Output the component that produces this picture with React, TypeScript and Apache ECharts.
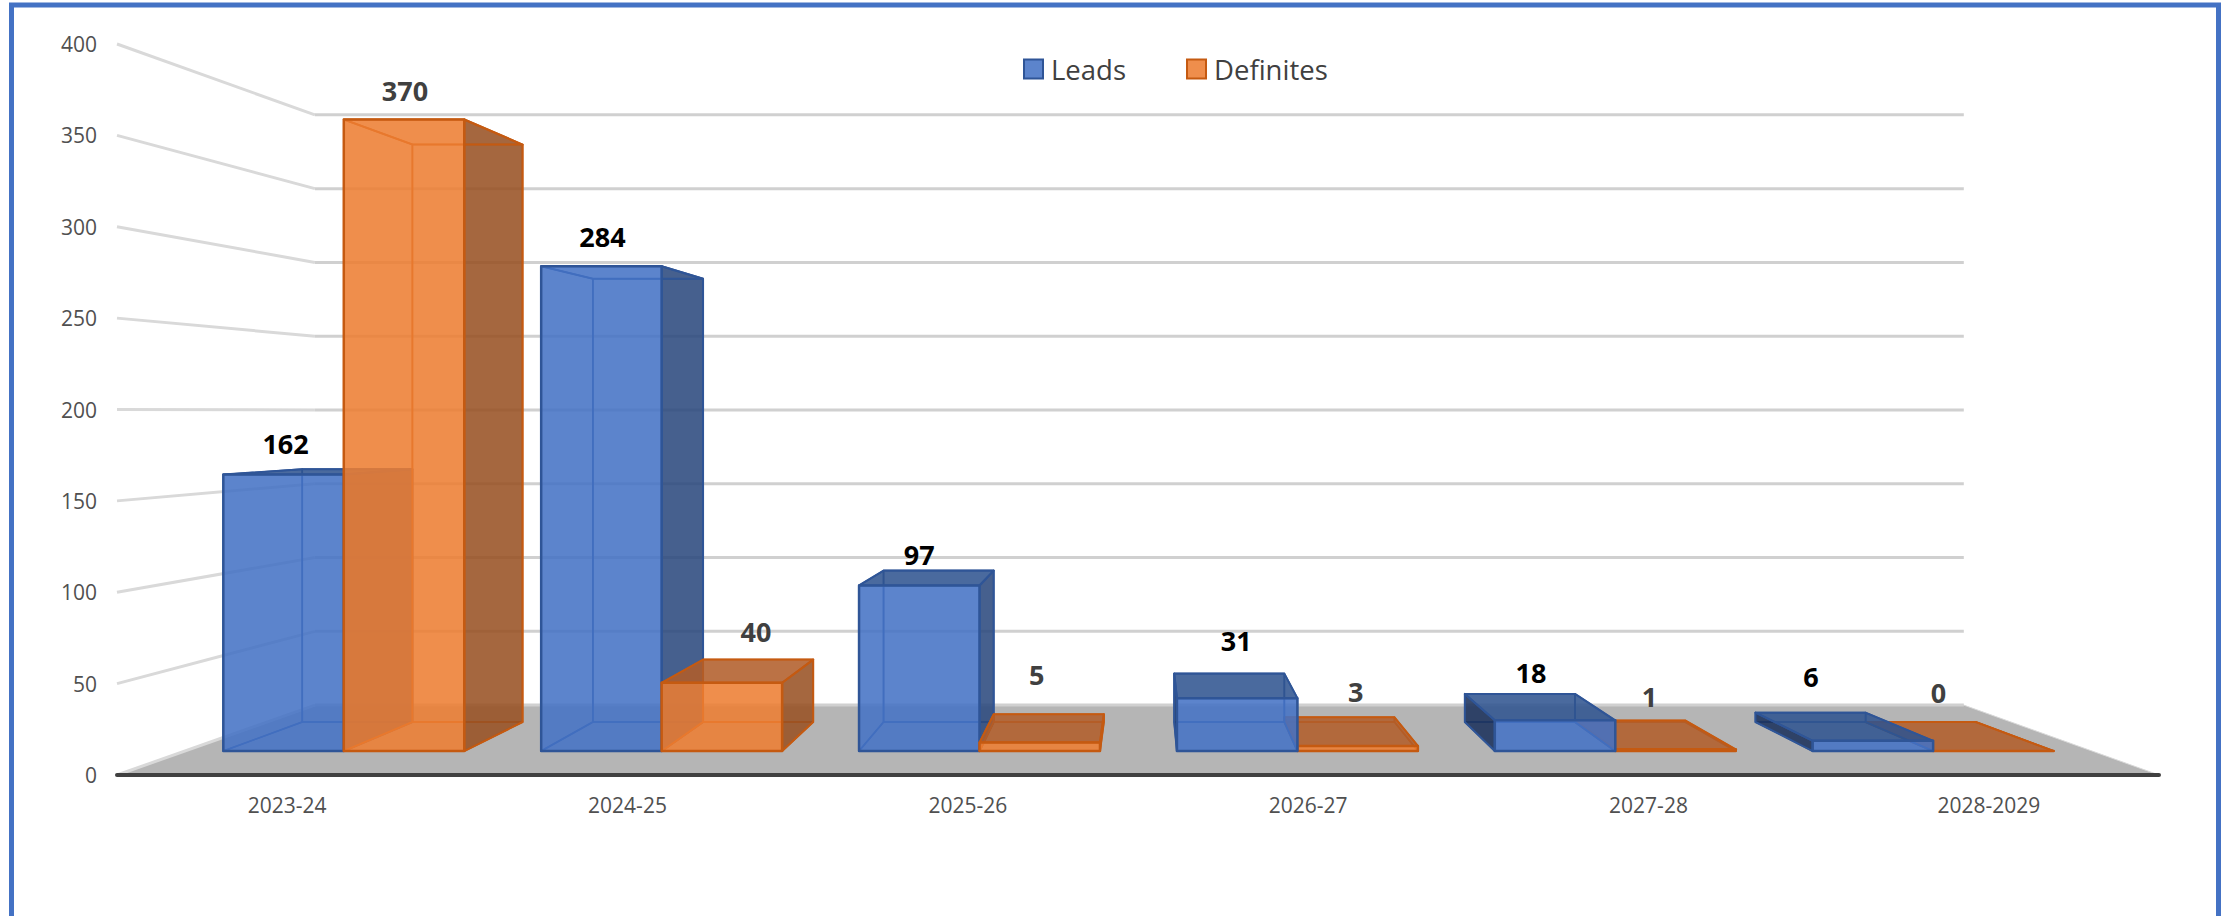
import React, { useEffect, useRef } from "react";
import * as echarts from "echarts";

const categories = ["2023-24", "2024-25", "2025-26", "2026-27", "2027-28", "2028-2029"];
const leads = [162, 284, 97, 31, 18, 6];
const definites = [370, 40, 5, 3, 1, 0];
const yTicks = [0, 50, 100, 150, 200, 250, 300, 350, 400];

// Layout of the data labels, relative to the top centre of each bar's front face
const leadsLabelDx = [2, 1, 0, -1, -24, -62];
const leadsLabelDy = [-31, -30, -31, -58, -48, -64];
const definitesLabelDx = [1, 34, -3, -2, -26, -55];
const definitesLabelDy = [-29, -51, -68, -54, -53, -59];

// Perspective: vanishing point and depth scales
const VP_X = 1145;
const VP_Y = 412;
const S_FRONT = 0.934;
const S_BACK = 0.854;
const S_WALL = 0.8075;
const BAR_RATIO = 0.379;
const FONT = '"Open Sans", "Noto Sans", sans-serif';

const project = (p: number[], s: number) => [VP_X + (p[0] - VP_X) * s, VP_Y + (p[1] - VP_Y) * s];

type Palette = { front: string; right: string; left: string; top: string; edge: string; label: string };
const blue: Palette = {
  front: "rgba(68,114,196,0.87)",
  right: "rgba(42,72,125,0.87)",
  left: "rgba(26,48,91,0.87)",
  top: "rgba(47,84,144,0.87)",
  edge: "#2F5597",
  label: "#000000",
};
const orange: Palette = {
  front: "rgba(237,125,49,0.87)",
  right: "rgba(152,80,34,0.87)",
  left: "rgba(122,63,24,0.87)",
  top: "rgba(177,93,41,0.87)",
  edge: "#C55A11",
  label: "#404040",
};

function barRenderer(side: number, pal: Palette, dxs: number[], dys: number[]) {
  return (_params: any, api: any) => {
    const cat = api.value(0);
    const val = api.value(1);
    const base = api.coord([cat, 0]);
    const top = api.coord([cat, val]);
    const barW = api.size([1, 0])[0] * BAR_RATIO;
    const x0 = side < 0 ? base[0] - barW : base[0];
    const x1 = x0 + barW;
    const yB = base[1];
    const yT = top[1];

    const fbl = project([x0, yB], S_FRONT);
    const fbr = project([x1, yB], S_FRONT);
    const ftl = project([x0, yT], S_FRONT);
    const ftr = project([x1, yT], S_FRONT);
    const bbl = project([x0, yB], S_BACK);
    const bbr = project([x1, yB], S_BACK);
    const btl = project([x0, yT], S_BACK);
    const btr = project([x1, yT], S_BACK);

    const center = (x0 + x1) / 2;
    const dist = Math.abs(center - VP_X);
    // bars further from the eye's axis are painted first
    const z = Math.round(3000 - dist) * 10 + 100;
    const isLeft = center < VP_X; // left of the eye: right side face is seen
    const topSeen = yT > VP_Y; // the top face is only seen from above, below the eye level

    const poly = (pts: number[][], fill: string, lw: number, zAdd: number) => ({
      type: "polygon",
      silent: true,
      z2: z + zAdd,
      shape: { points: pts },
      style: { fill, stroke: pal.edge, lineWidth: lw, lineJoin: "round" },
    });

    const leftFace = [bbl, fbl, ftl, btl];
    const rightFace = [fbr, bbr, btr, ftr];
    const children: any[] = [
      poly([bbl, bbr, btr, btl], "none", 1.6, 0),
      poly([bbl, bbr, fbr, fbl], "none", 1.6, 1),
      poly(isLeft ? leftFace : rightFace, "none", 1.6, 2),
      poly(isLeft ? rightFace : leftFace, isLeft ? pal.right : pal.left, 2, 3),
      poly([ftl, ftr, btr, btl], topSeen ? pal.top : "none", 2, 4),
      poly([fbl, fbr, ftr, ftl], pal.front, 2.5, 5),
      {
        type: "text",
        silent: true,
        z2: 100000,
        x: (ftl[0] + ftr[0]) / 2 + dxs[cat],
        y: ftl[1] + dys[cat],
        style: {
          text: String(val),
          fill: pal.label,
          font: `700 27px ${FONT}`,
          align: "center",
          verticalAlign: "middle",
          textAlign: "center",
          textVerticalAlign: "middle",
        },
      },
    ];
    return { type: "group", children };
  };
}

function wallRenderer(params: any, api: any) {
  const v = api.value(0);
  const cs = params.coordSys;
  const y = api.coord([0, v])[1];
  const leftX = cs.x;
  const rightX = cs.x + cs.width;
  const backL = project([leftX, y], S_WALL);
  const backR = project([rightX, y], S_WALL);
  const children: any[] = [];
  if (v === 0) {
    children.push({
      type: "polygon",
      silent: true,
      z2: 1,
      shape: { points: [[leftX, y], [rightX, y], backR, backL] },
      style: { fill: "#B5B5B5", stroke: "#D9D9D9", lineWidth: 1 },
    });
  }
  children.push({
    type: "polyline",
    silent: true,
    z2: 2,
    shape: { points: [[leftX, y], backL] },
    style: { fill: "none", stroke: "#D9D9D9", lineWidth: 3 },
  });
  children.push({
    type: "line",
    silent: true,
    z2: 2,
    shape: { x1: backL[0], y1: backL[1], x2: backR[0], y2: backR[1] },
    style: { stroke: "#D0D0D0", lineWidth: 3 },
  });
  return { type: "group", children };
}

export default function App() {
  const ref = useRef<HTMLDivElement>(null);
  useEffect(() => {
    document.body.style.margin = "0";
    const chart = echarts.init(ref.current!, undefined, { renderer: "svg" });
    chart.setOption({
      animation: false,
      backgroundColor: "#ffffff",
      textStyle: { fontFamily: FONT },
      grid: { left: 117, right: 75, top: 44, height: 731 },
      legend: {
        left: 1023,
        top: 55,
        padding: 0,
        itemWidth: 19,
        itemHeight: 19,
        itemGap: 60,
        icon: "rect",
        selectedMode: false,
        textStyle: { fontFamily: FONT, fontSize: 27.5, color: "#404040", padding: [0, 0, 0, 3] },
        data: [
          { name: "Leads", itemStyle: { color: "rgba(68,114,196,0.87)", borderColor: "#2F5597", borderWidth: 2 } },
          { name: "Definites", itemStyle: { color: "rgba(237,125,49,0.87)", borderColor: "#C55A11", borderWidth: 2 } },
        ],
      },
      xAxis: {
        type: "category",
        z: 5,
        data: categories,
        axisLine: { show: true, lineStyle: { color: "#404040", width: 4 } },
        axisTick: { show: false },
        axisLabel: { fontFamily: FONT, fontSize: 21, color: "#505050", margin: 19, interval: 0 },
        splitLine: { show: false },
      },
      yAxis: {
        type: "value",
        min: 0,
        max: 400,
        interval: 50,
        axisLine: { show: false },
        axisTick: { show: false },
        axisLabel: { fontFamily: FONT, fontSize: 21, color: "#505050", margin: 20 },
        splitLine: { show: false },
      },
      graphic: [
        {
          type: "rect",
          silent: true,
          z: -1,
          shape: { x: 11.5, y: 5, width: 2207, height: 1000 },
          style: { fill: "none", stroke: "#4472C4", lineWidth: 5 },
        },
      ],
      series: [
        {
          type: "custom",
          name: "walls",
          coordinateSystem: "cartesian2d",
          data: yTicks.map((v) => [v]),
          encode: { y: 0 },
          renderItem: wallRenderer,
          silent: true,
          tooltip: { show: false },
        },
        {
          type: "custom",
          name: "Leads",
          coordinateSystem: "cartesian2d",
          data: leads.map((v, i) => [i, v]),
          encode: { x: 0, y: 1 },
          renderItem: barRenderer(-1, blue, leadsLabelDx, leadsLabelDy),
          silent: true,
        },
        {
          type: "custom",
          name: "Definites",
          coordinateSystem: "cartesian2d",
          data: definites.map((v, i) => [i, v]),
          encode: { x: 0, y: 1 },
          renderItem: barRenderer(1, orange, definitesLabelDx, definitesLabelDy),
          silent: true,
        },
      ],
    });
    return () => chart.dispose();
  }, []);
  return (
    <div
      ref={ref}
      style={{ position: "absolute", left: 0, top: 0, width: 2234, height: 916 }}
    />
  );
}
